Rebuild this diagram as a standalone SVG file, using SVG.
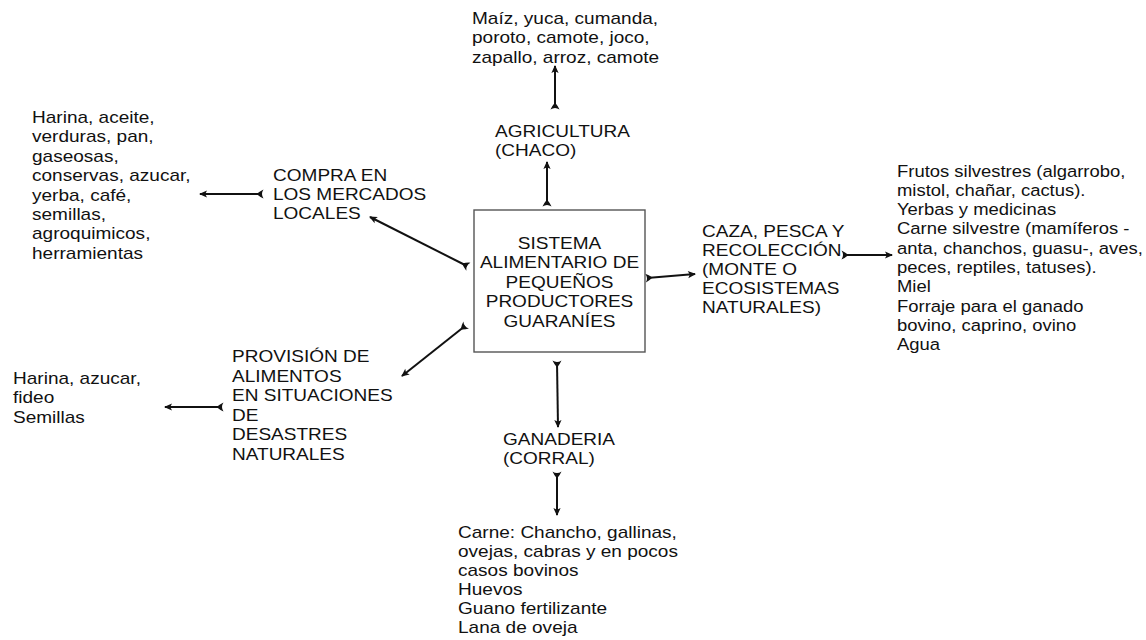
<svg xmlns="http://www.w3.org/2000/svg" width="1146" height="640" viewBox="0 0 1146 640">
<style>
text{font-family:"Liberation Sans",Arial,sans-serif;font-size:17px;fill:#111}
.c{text-anchor:middle}
.ln{fill:none;stroke:#111;stroke-width:2;marker-start:url(#tail);marker-end:url(#head)}
.box{fill:#fff;stroke:#555;stroke-width:1.4}
</style>
<defs>
<marker id="head" markerUnits="userSpaceOnUse" markerWidth="14" markerHeight="12" viewBox="-9 -6 11 12" refX="0" refY="0" orient="auto" overflow="visible">
<path d="M1,0 L-7,-3.6 L-5.2,0 L-7,3.6 Z" fill="#111"/>
</marker>
<marker id="tail" markerUnits="userSpaceOnUse" markerWidth="14" markerHeight="12" viewBox="-4 -6 12 12" refX="0" refY="0" orient="auto" overflow="visible">
<path d="M-1.5,-4.5 Q2,-3 5.5,0 Q2,3 -1.5,4.5 Q1.5,0 -1.5,-4.5 Z" fill="#111"/>
</marker>
</defs>
<rect width="1146" height="640" fill="#fff"/>
<g id="connectors">
<path class="ln" d="M555,108 L555,66"/>
<path class="ln" d="M547,205 L547,162"/>
<path class="ln" d="M262,194 L200,194"/>
<path class="ln" d="M467,266 L370,217"/>
<path class="ln" d="M647,278 L695,274"/>
<path class="ln" d="M843,255 L892,255"/>
<path class="ln" d="M465,326 L402,376"/>
<path class="ln" d="M222,407 L165,407"/>
<path class="ln" d="M557,362 L558,427"/>
<path class="ln" d="M557,473 L557,515"/>
</g>
<g id="sistema">
<rect class="box" x="474" y="210" width="171" height="142"/>
<text class="c" transform="translate(559.5,249) scale(1.12,1)"><tspan x="0" dy="0">SISTEMA</tspan><tspan x="0" dy="19.5">ALIMENTARIO DE</tspan><tspan x="0" dy="19.5">PEQUEÑOS</tspan><tspan x="0" dy="19.5">PRODUCTORES</tspan><tspan x="0" dy="19.5">GUARANÍES</tspan></text>
</g>
<g id="agricultura-productos">
<text transform="translate(472,24) scale(1.12,1)"><tspan x="0" dy="0">Maíz, yuca, cumanda,</tspan><tspan x="0" dy="19.3">poroto, camote, joco,</tspan><tspan x="0" dy="19.3">zapallo, arroz, camote</tspan></text>
</g>
<g id="agricultura">
<text transform="translate(495,137) scale(1.12,1)"><tspan x="0" dy="0">AGRICULTURA</tspan><tspan x="0" dy="19">(CHACO)</tspan></text>
</g>
<g id="compra">
<text transform="translate(273,181) scale(1.12,1)"><tspan x="0" dy="0">COMPRA EN</tspan><tspan x="0" dy="18.8">LOS MERCADOS</tspan><tspan x="0" dy="18.8">LOCALES</tspan></text>
</g>
<g id="compra-productos">
<text transform="translate(32,123) scale(1.12,1)"><tspan x="0" dy="0">Harina, aceite,</tspan><tspan x="0" dy="19.4">verduras, pan,</tspan><tspan x="0" dy="19.4">gaseosas,</tspan><tspan x="0" dy="19.4">conservas, azucar,</tspan><tspan x="0" dy="19.4">yerba, café,</tspan><tspan x="0" dy="19.4">semillas,</tspan><tspan x="0" dy="19.4">agroquimicos,</tspan><tspan x="0" dy="19.4">herramientas</tspan></text>
</g>
<g id="caza">
<text transform="translate(702,237) scale(1.12,1)"><tspan x="0" dy="0">CAZA, PESCA Y</tspan><tspan x="0" dy="19">RECOLECCIÓN</tspan><tspan x="0" dy="19">(MONTE O</tspan><tspan x="0" dy="19">ECOSISTEMAS</tspan><tspan x="0" dy="19">NATURALES)</tspan></text>
</g>
<g id="caza-productos">
<text transform="translate(897,176.5) scale(1.085,1)"><tspan x="0" dy="0">Frutos silvestres (algarrobo,</tspan><tspan x="0" dy="19.3">mistol, chañar, cactus).</tspan><tspan x="0" dy="19.3">Yerbas y medicinas</tspan><tspan x="0" dy="19.3">Carne silvestre (mamíferos -</tspan><tspan x="0" dy="19.3">anta, chanchos, guasu-, aves,</tspan><tspan x="0" dy="19.3">peces, reptiles, tatuses).</tspan><tspan x="0" dy="19.3">Miel</tspan><tspan x="0" dy="19.3">Forraje para el ganado</tspan><tspan x="0" dy="19.3">bovino, caprino, ovino</tspan><tspan x="0" dy="19.3">Agua</tspan></text>
</g>
<g id="provision">
<text transform="translate(232,362) scale(1.12,1)"><tspan x="0" dy="0">PROVISIÓN DE</tspan><tspan x="0" dy="19.6">ALIMENTOS</tspan><tspan x="0" dy="19.6">EN SITUACIONES</tspan><tspan x="0" dy="19.6">DE</tspan><tspan x="0" dy="19.6">DESASTRES</tspan><tspan x="0" dy="19.6">NATURALES</tspan></text>
</g>
<g id="provision-productos">
<text transform="translate(13,384) scale(1.12,1)"><tspan x="0" dy="0">Harina, azucar,</tspan><tspan x="0" dy="19.3">fideo</tspan><tspan x="0" dy="19.3">Semillas</tspan></text>
</g>
<g id="ganaderia">
<text transform="translate(503,445) scale(1.12,1)"><tspan x="0" dy="0">GANADERIA</tspan><tspan x="0" dy="19">(CORRAL)</tspan></text>
</g>
<g id="ganaderia-productos">
<text transform="translate(458,538) scale(1.12,1)"><tspan x="0" dy="0">Carne: Chancho, gallinas,</tspan><tspan x="0" dy="19">ovejas, cabras y en pocos</tspan><tspan x="0" dy="19">casos bovinos</tspan><tspan x="0" dy="19">Huevos</tspan><tspan x="0" dy="19">Guano fertilizante</tspan><tspan x="0" dy="19">Lana de oveja</tspan></text>
</g>
</svg>
